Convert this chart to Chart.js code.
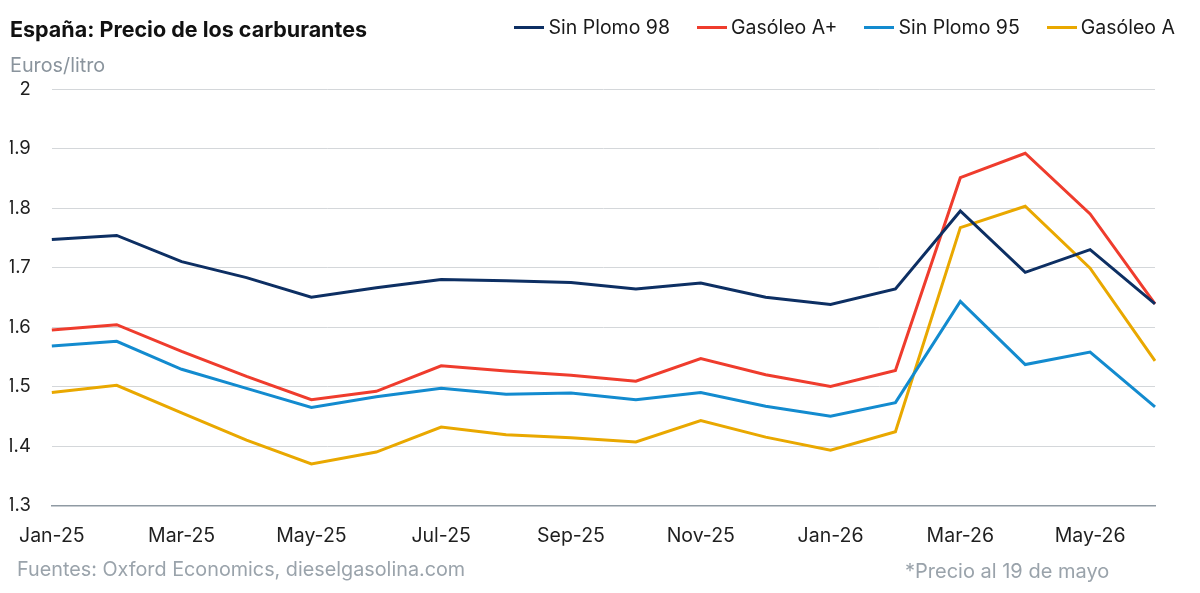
<!DOCTYPE html>
<html><head><meta charset="utf-8">
<script src="https://cdn.jsdelivr.net/npm/chart.js@4.4.1/dist/chart.umd.min.js"></script>
<style>
html,body{margin:0;padding:0;background:#fff;}
#wrap{position:relative;width:1200px;height:593px;font-family:Inter,'DejaVu Sans',sans-serif;overflow:hidden;}
canvas{position:absolute;left:0;top:0;}
.t{position:absolute;white-space:nowrap;}
#title{left:10px;top:16px;font-size:21.5px;font-weight:700;color:#111;line-height:26px;}
#unit{left:10px;top:53px;font-size:19.8px;color:#8a949d;line-height:24px;}
#legend{position:absolute;top:15px;right:25px;display:flex;align-items:center;height:24px;}
.li{display:flex;align-items:center;margin-left:27px;font-size:19.5px;color:#1a1a1a;line-height:24px;}
.li:first-child{margin-left:0;}
.sw{width:30px;height:3px;margin-right:4px;}
#src{left:17px;top:557px;font-size:19.8px;color:#9aa3ab;line-height:24px;}
#note{left:905px;top:559px;font-size:20px;color:#9aa3ab;line-height:24px;}
</style></head>
<body>
<div id="wrap">
<canvas id="c" width="1200" height="593"></canvas>
<div class="t" id="title">España: Precio de los carburantes</div>
<div class="t" id="unit">Euros/litro</div>
<div id="legend"></div>
<div class="t" id="src">Fuentes: Oxford Economics, dieselgasolina.com</div>
<div class="t" id="note">*Precio al 19 de mayo</div>
</div>
<script>
const months = ['Jan-25','Feb-25','Mar-25','Apr-25','May-25','Jun-25','Jul-25','Aug-25','Sep-25','Oct-25','Nov-25','Dec-25','Jan-26','Feb-26','Mar-26','Apr-26','May-26','19-May-26*'];
const sinPlomo98 = [1.747,1.754,1.710,1.683,1.650,1.666,1.680,1.678,1.675,1.664,1.674,1.650,1.638,1.664,1.795,1.692,1.730,1.639];
const gasoleoAPlus = [1.595,1.604,1.559,1.517,1.478,1.492,1.535,1.526,1.519,1.509,1.547,1.520,1.500,1.527,1.851,1.892,1.790,1.639];
const sinPlomo95 = [1.568,1.576,1.529,1.497,1.465,1.483,1.497,1.487,1.489,1.478,1.490,1.467,1.450,1.473,1.643,1.537,1.558,1.466];
const gasoleoA = [1.490,1.502,1.456,1.410,1.370,1.390,1.432,1.419,1.414,1.407,1.443,1.415,1.393,1.424,1.767,1.803,1.699,1.543];
const yTicks = [1.3,1.4,1.5,1.6,1.7,1.8,1.9,2];

const series = [
  {label:'Sin Plomo 98', data:sinPlomo98, color:'#0d2f63'},
  {label:'Gasóleo A+', data:gasoleoAPlus, color:'#ef3c2d'},
  {label:'Sin Plomo 95', data:sinPlomo95, color:'#138bcf'},
  {label:'Gasóleo A', data:gasoleoA, color:'#e9a800'}
];

const leg = document.getElementById('legend');
series.forEach(s=>{
  const d=document.createElement('div'); d.className='li';
  const sw=document.createElement('span'); sw.className='sw'; sw.style.background=s.color;
  d.appendChild(sw); d.appendChild(document.createTextNode(s.label)); leg.appendChild(d);
});

new Chart(document.getElementById('c'), {
  type:'line',
  data:{labels:months, datasets:series.map(s=>({label:s.label,data:s.data,borderColor:s.color,backgroundColor:s.color,borderWidth:3,pointRadius:0,tension:0,fill:false}))},
  options:{
    responsive:false, animation:false,
    layout:{padding:{left:8,right:45,top:89,bottom:26}},
    plugins:{legend:{display:false},tooltip:{enabled:false}},
    scales:{
      x:{
        grid:{display:false,drawTicks:false},
        border:{display:true,color:'#8f9aa3',width:1.5},
        ticks:{autoSkip:false,maxRotation:0,minRotation:0,padding:19,color:'#1f1f1f',font:{family:'Inter',size:19.5},
          callback:function(v,i){return i%2===0?this.getLabelForValue(v):'';}}
      },
      y:{
        min:1.3,max:2,
        afterBuildTicks:(s)=>{s.ticks=yTicks.map(v=>({value:v}));},
        afterFit:(s)=>{s.width=42;},
        grid:{color:'#d4d7da',lineWidth:1,drawTicks:false},
        border:{display:false},
        ticks:{padding:21,color:'#1f1f1f',font:{family:'Inter',size:18.5},callback:(v)=>String(Number(v.toFixed(1)))}
      }
    }
  }
});
</script>
</body></html>
